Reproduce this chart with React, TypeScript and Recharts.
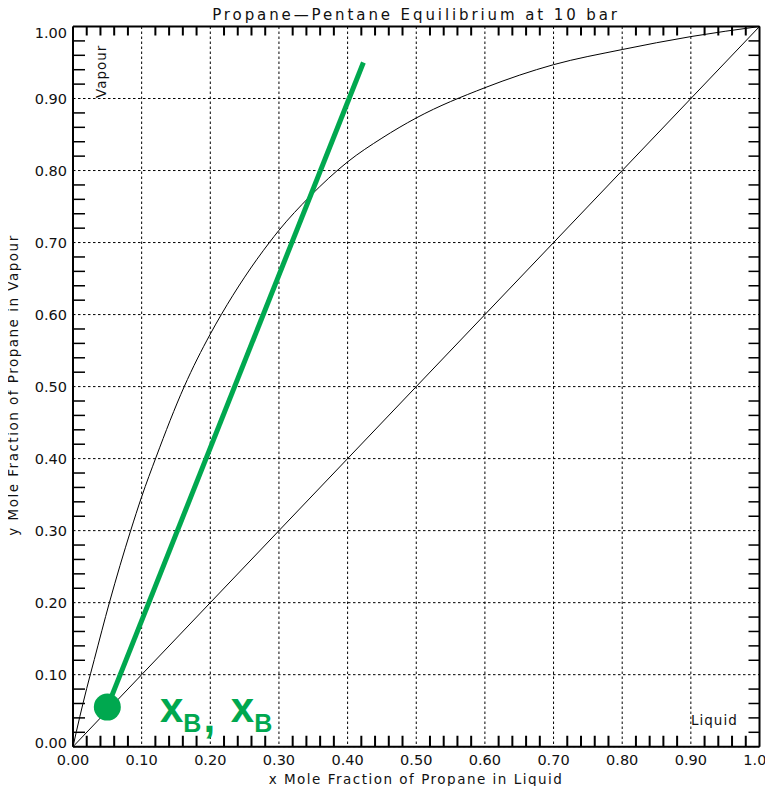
import {
  CartesianGrid,
  ComposedChart,
  Customized,
  Line,
  ReferenceLine,
  Scatter,
  XAxis,
  YAxis,
} from 'recharts'

// equilibrium curve
const eqX = [0, 0.01, 0.02, 0.031, 0.053, 0.084, 0.1, 0.121, 0.162, 0.2, 0.216, 0.25, 0.286, 0.3, 0.345, 0.4, 0.45, 0.5, 0.6, 0.7, 0.8, 0.9, 1]
const eqY = [0, 0.042, 0.081, 0.121, 0.2, 0.3, 0.347, 0.402, 0.5, 0.573, 0.6, 0.652, 0.7, 0.717, 0.764, 0.812, 0.845, 0.873, 0.915, 0.947, 0.968, 0.986, 1]

const diagX = [0, 1]
const diagY = [0, 1]

// green operating line + feed point
const opX = [0.05, 0.423]
const opY = [0.055, 0.95]
const pointX = [0.05]
const pointY = [0.055]

const majorTicks = [0, 0.1, 0.2, 0.3, 0.4, 0.5, 0.6, 0.7, 0.8, 0.9, 1]
const minorTicks = [
  0.02, 0.04, 0.06, 0.08, 0.12, 0.14, 0.16, 0.18, 0.22, 0.24, 0.26, 0.28,
  0.32, 0.34, 0.36, 0.38, 0.42, 0.44, 0.46, 0.48, 0.52, 0.54, 0.56, 0.58,
  0.62, 0.64, 0.66, 0.68, 0.72, 0.74, 0.76, 0.78, 0.82, 0.84, 0.86, 0.88,
  0.92, 0.94, 0.96, 0.98,
]

const zip = (xs: number[], ys: number[]) => xs.map((x, i) => ({ x, y: ys[i] }))
const eqData = zip(eqX, eqY)
const diagData = zip(diagX, diagY)
const opData = zip(opX, opY)
const pointData = zip(pointX, pointY)

const GREEN = '#00a84f'
const FONT = '"DejaVu Sans", sans-serif'
const W = 773
const H = 794
const MARGIN = { top: 26.5, right: 13.5, bottom: 17.3, left: 13 }
const Y_AXIS_W = 60
const X_AXIS_H = 30
// plot box implied by the margins and axis sizes
const PLOT_LEFT = MARGIN.left + Y_AXIS_W
const PLOT_W = W - PLOT_LEFT - MARGIN.right
const PLOT_TOP = MARGIN.top
const PLOT_BOTTOM = H - MARGIN.bottom - X_AXIS_H

function XTick(props: any) {
  const { x, y, payload } = props
  return (
    <text x={x} y={y} dy="0.71em" textAnchor="middle" fontSize={14.5} fontFamily={FONT} fill="#111">
      {payload.value.toFixed(2)}
    </text>
  )
}

function YTick(props: any) {
  const { x, y, payload } = props
  // end labels sit inside the frame like the original
  const shift = payload.value === 1 ? 6 : payload.value === 0 ? -4 : 0
  return (
    <text x={x} y={y + shift} dy="0.355em" textAnchor="end" fontSize={14.5} fontFamily={FONT} fill="#111">
      {payload.value.toFixed(2)}
    </text>
  )
}

// inward minor tick on the side axes, drawn from the axis line (tickSize/tickMargin are 0)
function MinorTick(props: any) {
  const { x, y, side, len } = props
  const dx = side === 'left' ? len : -len
  return <line x1={x} y1={y} x2={x + dx} y2={y} stroke="#000" strokeWidth={1.5} />
}

function Dot(props: any) {
  return <circle cx={props.cx} cy={props.cy} r={13.5} fill={GREEN} />
}

function Notes() {
  const toX = (v: number) => PLOT_LEFT + v * PLOT_W
  return (
    <g fontFamily={FONT} fill="#111">
      {/* inward minor ticks on the top and bottom edges of the frame */}
      <g stroke="#000" strokeWidth={2} fill="none">
        {minorTicks.map((v) => (
          <path
            key={v}
            d={`M${toX(v)},${PLOT_BOTTOM} V${PLOT_BOTTOM - 11} M${toX(v)},${PLOT_TOP} V${PLOT_TOP + 9}`}
          />
        ))}
      </g>
      <text x={416} y={20} textAnchor="middle" fontSize={15} letterSpacing={2.9}>
        Propane—Pentane Equilibrium at 10 bar
      </text>
      <text x={416} y={784} textAnchor="middle" fontSize={13.5} letterSpacing={1.5}>
        x Mole Fraction of Propane in Liquid
      </text>
      <text transform="translate(18,385) rotate(-90)" textAnchor="middle" fontSize={13.5} letterSpacing={1.5}>
        y Mole Fraction of Propane in Vapour
      </text>
      <text transform="translate(106,98) rotate(-90)" fontSize={13.5} letterSpacing={1}>
        Vapour
      </text>
      <text x={691} y={725} fontSize={13.5} letterSpacing={1}>
        Liquid
      </text>
      <text x={160} y={722} fill={GREEN} fontWeight="bold" fontFamily='"Liberation Sans", Arial, sans-serif'>
        <tspan fontSize={42}>x</tspan>
        <tspan fontSize={25} dy={10}>B</tspan>
        <tspan fontSize={42} dx={2}>,</tspan>
        <tspan fontSize={42} dy={-10} dx={4}> x</tspan>
        <tspan fontSize={25} dy={10}>B</tspan>
      </text>
    </g>
  )
}

const minorAxis = {
  type: 'number' as const,
  domain: [0, 1],
  ticks: minorTicks,
  interval: 0,
  mirror: true,
  tickSize: 0,
  tickMargin: 0,
  tickLine: false,
  allowDataOverflow: true,
}

export default function App() {
  return (
    <div
      style={{
        position: 'relative',
        margin: -8,
        width: W,
        height: H,
        overflow: 'hidden',
        background: 'linear-gradient(180deg, #b0c4e6 0%, #e0e7f5 100%)',
      }}
    >
      <div style={{ position: 'absolute', left: 5, top: 5, width: 768, height: 784, background: '#fff' }} />
      <div style={{ position: 'absolute', left: 0, top: 0 }}>
        <ComposedChart width={W} height={H} margin={MARGIN}>
          <CartesianGrid stroke="#000" strokeDasharray="2.5 2.5" strokeWidth={1} />
          <XAxis
            dataKey="x"
            type="number"
            domain={[0, 1]}
            ticks={majorTicks}
            interval={0}
            height={X_AXIS_H}
            tick={<XTick />}
            tickLine={false}
            tickSize={6}
            tickMargin={2}
            axisLine={{ stroke: '#000', strokeWidth: 2 }}
          />
          <YAxis
            dataKey="y"
            type="number"
            domain={[0, 1]}
            ticks={majorTicks}
            interval={0}
            width={Y_AXIS_W}
            tick={<YTick />}
            tickLine={false}
            tickSize={4}
            tickMargin={2}
            axisLine={{ stroke: '#000', strokeWidth: 2 }}
          />
          <YAxis yAxisId="leftMinor" dataKey="y" {...minorAxis} axisLine={false} tick={<MinorTick side="left" len={12} />} />
          <YAxis
            yAxisId="right"
            dataKey="y"
            orientation="right"
            {...minorAxis}
            axisLine={{ stroke: '#000', strokeWidth: 2 }}
            tick={<MinorTick side="right" len={11} />}
          />
          {/* invisible series that tie the frame axes to data */}
          <Line data={diagData} dataKey="y" yAxisId="leftMinor" stroke="none" dot={false} isAnimationActive={false} />
          <Line data={diagData} dataKey="y" yAxisId="right" stroke="none" dot={false} isAnimationActive={false} />
          <ReferenceLine y={1} stroke="#000" strokeWidth={2} />
          <Line data={diagData} dataKey="y" type="linear" stroke="#000" strokeWidth={1} dot={false} isAnimationActive={false} />
          <Line data={eqData} dataKey="y" type="monotone" stroke="#000" strokeWidth={1} dot={false} isAnimationActive={false} />
          <Line data={opData} dataKey="y" type="linear" stroke={GREEN} strokeWidth={5} dot={false} isAnimationActive={false} />
          <Scatter data={pointData} dataKey="y" fill={GREEN} shape={<Dot />} isAnimationActive={false} />
          <Customized component={Notes} />
        </ComposedChart>
      </div>
    </div>
  )
}
